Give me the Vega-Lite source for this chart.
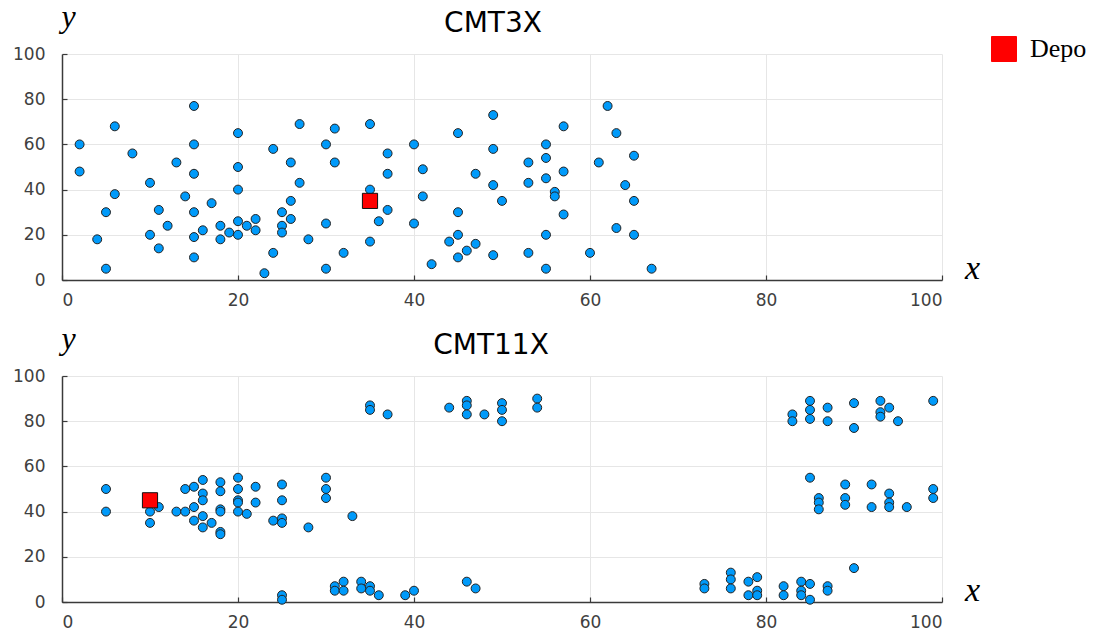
{
  "$schema": "https://vega.github.io/schema/vega-lite/v6.json",
  "background": "white",
  "padding": {"left": 12, "top": 0, "right": 5, "bottom": 5},
  "datasets": {
    "cmt3": [
      {"x":41,"y":49},{"x":35,"y":17},{"x":55,"y":45},{"x":55,"y":20},{"x":15,"y":30},{"x":25,"y":30},{"x":20,"y":50},{"x":10,"y":43},{"x":55,"y":60},{"x":30,"y":60},
      {"x":20,"y":65},{"x":50,"y":35},{"x":30,"y":25},{"x":15,"y":10},{"x":30,"y":5},{"x":10,"y":20},{"x":5,"y":30},{"x":20,"y":40},{"x":15,"y":60},{"x":45,"y":65},
      {"x":45,"y":20},{"x":45,"y":10},{"x":55,"y":5},{"x":65,"y":35},{"x":65,"y":20},{"x":45,"y":30},{"x":35,"y":40},{"x":41,"y":37},{"x":64,"y":42},{"x":40,"y":60},
      {"x":31,"y":52},{"x":35,"y":69},{"x":53,"y":52},{"x":65,"y":55},{"x":63,"y":65},{"x":2,"y":60},{"x":20,"y":20},{"x":5,"y":5},{"x":60,"y":12},{"x":40,"y":25},
      {"x":42,"y":7},{"x":24,"y":12},{"x":23,"y":3},{"x":11,"y":14},{"x":6,"y":38},{"x":2,"y":48},{"x":8,"y":56},{"x":13,"y":52},{"x":6,"y":68},{"x":47,"y":47},
      {"x":49,"y":58},{"x":27,"y":43},{"x":37,"y":31},{"x":57,"y":29},{"x":63,"y":23},{"x":53,"y":12},{"x":32,"y":12},{"x":36,"y":26},{"x":21,"y":24},{"x":17,"y":34},
      {"x":12,"y":24},{"x":24,"y":58},{"x":27,"y":69},{"x":15,"y":77},{"x":62,"y":77},{"x":49,"y":73},{"x":67,"y":5},{"x":56,"y":39},{"x":37,"y":47},{"x":37,"y":56},
      {"x":57,"y":68},{"x":47,"y":16},{"x":44,"y":17},{"x":46,"y":13},{"x":49,"y":11},{"x":49,"y":42},{"x":53,"y":43},{"x":61,"y":52},{"x":57,"y":48},{"x":56,"y":37},
      {"x":55,"y":54},{"x":15,"y":47},{"x":14,"y":37},{"x":11,"y":31},{"x":16,"y":22},{"x":4,"y":18},{"x":28,"y":18},{"x":26,"y":52},{"x":26,"y":35},{"x":31,"y":67},
      {"x":15,"y":19},{"x":22,"y":22},{"x":18,"y":24},{"x":26,"y":27},{"x":25,"y":24},{"x":22,"y":27},{"x":25,"y":21},{"x":19,"y":21},{"x":20,"y":26},{"x":18,"y":18}
    ],
    "depot3": [{"x":35,"y":35,"label":"Depo"}],
    "cmt11": [
      {"x":5,"y":50},{"x":5,"y":40},{"x":10,"y":40},{"x":10,"y":35},{"x":11,"y":42},{"x":13,"y":40},{"x":14,"y":40},{"x":14,"y":50},{"x":15,"y":51},{"x":15,"y":42},
      {"x":15,"y":36},{"x":16,"y":54},{"x":16,"y":48},{"x":16,"y":45},{"x":16,"y":38},{"x":16,"y":33},{"x":17,"y":35},{"x":18,"y":53},{"x":18,"y":49},{"x":18,"y":41},
      {"x":18,"y":40},{"x":18,"y":31},{"x":18,"y":30},{"x":20,"y":55},{"x":20,"y":50},{"x":20,"y":45},{"x":20,"y":44},{"x":20,"y":40},{"x":21,"y":39},{"x":22,"y":51},
      {"x":22,"y":44},{"x":24,"y":36},{"x":25,"y":52},{"x":25,"y":45},{"x":25,"y":37},{"x":25,"y":35},{"x":28,"y":33},{"x":30,"y":55},{"x":30,"y":50},{"x":30,"y":46},
      {"x":33,"y":38},
      {"x":25,"y":3},{"x":25,"y":1},{"x":31,"y":7},{"x":31,"y":5},{"x":32,"y":9},{"x":32,"y":5},{"x":34,"y":9},{"x":34,"y":6},{"x":35,"y":7},{"x":35,"y":5},
      {"x":36,"y":3},{"x":39,"y":3},{"x":40,"y":5},{"x":46,"y":9},{"x":47,"y":6},
      {"x":35,"y":87},{"x":35,"y":85},{"x":37,"y":83},{"x":44,"y":86},{"x":46,"y":89},{"x":46,"y":87},{"x":46,"y":83},{"x":48,"y":83},{"x":50,"y":88},{"x":50,"y":85},
      {"x":50,"y":80},{"x":54,"y":90},{"x":54,"y":86},
      {"x":73,"y":8},{"x":73,"y":6},{"x":76,"y":13},{"x":76,"y":10},{"x":76,"y":6},{"x":78,"y":9},{"x":78,"y":3},{"x":79,"y":11},{"x":79,"y":5},{"x":79,"y":3},
      {"x":82,"y":7},{"x":82,"y":3},{"x":84,"y":9},{"x":84,"y":5},{"x":84,"y":3},{"x":85,"y":8},{"x":85,"y":1},{"x":87,"y":7},{"x":87,"y":5},{"x":90,"y":15},
      {"x":85,"y":55},{"x":86,"y":46},{"x":86,"y":44},{"x":86,"y":41},{"x":89,"y":52},{"x":89,"y":46},{"x":89,"y":43},{"x":92,"y":52},{"x":92,"y":42},{"x":94,"y":48},
      {"x":94,"y":44},{"x":94,"y":42},{"x":96,"y":42},{"x":99,"y":50},{"x":99,"y":46},
      {"x":83,"y":83},{"x":83,"y":80},{"x":85,"y":89},{"x":85,"y":85},{"x":85,"y":81},{"x":87,"y":86},{"x":87,"y":80},{"x":90,"y":88},{"x":90,"y":77},{"x":93,"y":89},
      {"x":93,"y":84},{"x":93,"y":82},{"x":94,"y":86},{"x":95,"y":80},{"x":99,"y":89}
    ],
    "depot11": [{"x":10,"y":45,"label":"Depo"}]
  },
  "spacing": 14,
  "resolve": {"scale": {"color": "independent"}, "legend": {"color": "independent"}},
  "vconcat": [
    {
      "width": 880,
      "height": 226,
      "title": {"text": "CMT3X", "font": "DejaVu Sans", "fontSize": 28, "fontWeight": "normal", "color": "black", "offset": -38, "dx": -9},
      "layer": [
        {
          "data": {"name": "cmt3"},
          "mark": {"type": "circle", "size": 80, "fill": "#009AFA", "stroke": "#222222", "strokeWidth": 1, "opacity": 1},
          "encoding": {
            "x": {"field": "x", "type": "quantitative", "scale": {"domain": [0, 100], "nice": false, "zero": false},
              "axis": {"values": [0, 20, 40, 60, 80, 100], "title": "x", "titleX": 910, "titleY": -2, "titleAlign": "center", "titleBaseline": "alphabetic", "titleFont": "Liberation Serif", "titleFontStyle": "italic", "titleFontSize": 34, "titleFontWeight": "normal", "titleColor": "black"}},
            "y": {"field": "y", "type": "quantitative", "scale": {"domain": [0, 100], "nice": false, "zero": false},
              "axis": {"values": [0, 20, 40, 60, 80, 100], "title": "y", "titleAngle": 0, "titleX": 6, "titleY": -28, "titleAlign": "center", "titleBaseline": "alphabetic", "titleFont": "Liberation Serif", "titleFontStyle": "italic", "titleFontSize": 32, "titleFontWeight": "normal", "titleColor": "black"}}
          }
        },
        {
          "data": {"name": "depot3"},
          "mark": {"type": "square", "size": 230, "stroke": "#111111", "strokeWidth": 1, "opacity": 1, "filled": true},
          "encoding": {
            "x": {"field": "x", "type": "quantitative"},
            "y": {"field": "y", "type": "quantitative"},
            "color": {"field": "label", "type": "nominal", "scale": {"range": ["#ff0000"]},
              "legend": {"orient": "none", "legendX": 929, "legendY": -18, "title": null, "symbolType": "square", "symbolSize": 625, "symbolStrokeColor": "#ff0000", "symbolStrokeWidth": 1, "labelFont": "Liberation Serif", "labelFontSize": 26, "labelColor": "black", "labelOffset": 13, "padding": 0}}
          }
        }
      ]
    },
    {
      "width": 880,
      "height": 226,
      "title": {"text": "CMT11X", "font": "DejaVu Sans", "fontSize": 28, "fontWeight": "normal", "color": "black", "offset": -38, "dx": -11},
      "layer": [
        {
          "data": {"name": "cmt11"},
          "mark": {"type": "circle", "size": 80, "fill": "#009AFA", "stroke": "#222222", "strokeWidth": 1, "opacity": 1},
          "encoding": {
            "x": {"field": "x", "type": "quantitative", "scale": {"domain": [0, 100], "nice": false, "zero": false},
              "axis": {"values": [0, 20, 40, 60, 80, 100], "title": "x", "titleX": 910, "titleY": -2, "titleAlign": "center", "titleBaseline": "alphabetic", "titleFont": "Liberation Serif", "titleFontStyle": "italic", "titleFontSize": 34, "titleFontWeight": "normal", "titleColor": "black"}},
            "y": {"field": "y", "type": "quantitative", "scale": {"domain": [0, 100], "nice": false, "zero": false},
              "axis": {"values": [0, 20, 40, 60, 80, 100], "title": "y", "titleAngle": 0, "titleX": 6, "titleY": -28, "titleAlign": "center", "titleBaseline": "alphabetic", "titleFont": "Liberation Serif", "titleFontStyle": "italic", "titleFontSize": 32, "titleFontWeight": "normal", "titleColor": "black"}}
          }
        },
        {
          "data": {"name": "depot11"},
          "mark": {"type": "square", "size": 230, "fill": "#ff0000", "stroke": "#111111", "strokeWidth": 1, "opacity": 1, "filled": true},
          "encoding": {
            "x": {"field": "x", "type": "quantitative"},
            "y": {"field": "y", "type": "quantitative"}
          }
        }
      ]
    }
  ],
  "config": {
    "view": {"stroke": null},
    "axis": {
      "grid": true,
      "gridColor": "#e6e6e6",
      "gridWidth": 1,
      "domainColor": "#3a3a3a",
      "domainWidth": 1.5,
      "tickColor": "#3a3a3a",
      "tickSize": -5,
      "tickWidth": 1.2,
      "labelFont": "DejaVu Sans",
      "labelFontSize": 17,
      "labelColor": "#404040"
    },
    "axisX": {"labelPadding": 17},
    "axisY": {"labelPadding": 22}
  }
}
